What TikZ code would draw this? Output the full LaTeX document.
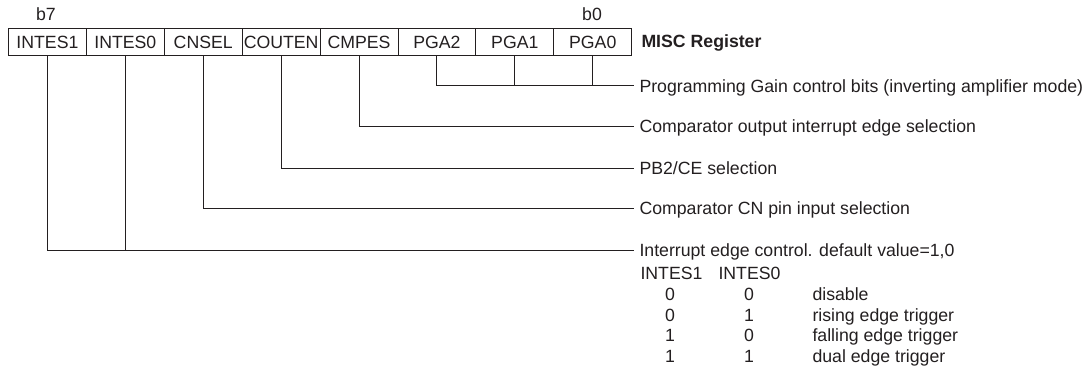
\documentclass[tikz,border=0pt]{standalone}
\usepackage{fontspec}
\setmainfont{Liberation Sans}
\definecolor{ink}{RGB}{35,31,32}
\begin{document}
\begin{tikzpicture}[x=1pt,y=-1pt,
  font=\fontsize{17.7}{20}\selectfont, color=ink, line width=1pt,
  reg/.style={draw, minimum width=77.9pt, minimum height=27pt, inner sep=0pt, anchor=north west, line width=1pt},
  lab/.style={anchor=west, inner xsep=5pt, inner ysep=0pt, text height=12.7pt, text depth=0pt},
  cell/.style={inner sep=0pt, text height=12.7pt, text depth=0pt},
  cellw/.style={cell, anchor=west}]
\useasboundingbox (0,0) rectangle (1088,369);
% register boxes
\node[reg] (r7) at (8,28) {INTES1};
\node[reg] (r6) at (85.9,28) {INTES0};
\node[reg] (r5) at (163.8,28) {CNSEL};
\node[reg] (r4) at (241.7,28) {COUTEN};
\node[reg] (r3) at (319.6,28) {CMPES};
\node[reg] (r2) at (397.5,28) {PGA2};
\node[reg] (r1) at (475.4,28) {PGA1};
\node[reg] (r0) at (553.3,28) {PGA0};
\node[cell] (b7) at (46,14) {b7};
\node[cell] (b0) at (592,14) {b0};
\node[cellw, font=\fontsize{17.7}{20}\selectfont\bfseries] (misc) at (641,41) {MISC Register};
% labels
\node[lab] (tP) at (634,86) {Programming Gain control bits (inverting amplifier mode)};
\node[lab] (tC) at (634,126.5) {Comparator output interrupt edge selection};
\node[lab] (tB) at (634,168) {PB2/CE selection};
\node[lab] (tN) at (634,208) {Comparator CN pin input selection};
\node[lab] (tI) at (634,250) {Interrupt edge control. default value=1,0};
% connectors
\draw (r2.south) |- (tP.west);
\draw (r1.south) -- (r1.south |- tP.west);
\draw (r0.south) -- (r0.south |- tP.west);
\draw (r3.south) |- (tC.west);
\draw (r4.south) |- (tB.west);
\draw (r5.south) |- (tN.west);
\draw (r7.south) |- (tI.west);
\draw (r6.south) -- (r6.south |- tI.west);
% table
\node[cellw] (h1) at (640,273) {INTES1};
\node[cellw] (h2) at (718,273) {INTES0};
\node[cell] (a1) at (670,294.5) {0};
\node[cell] (a2) at (749,294.5) {0};
\node[cellw] (a3) at (812,294.5) {disable};
\node[cell] (c1) at (670,315) {0};
\node[cell] (c2) at (749,315) {1};
\node[cellw] (c3) at (812,315) {rising edge trigger};
\node[cell] (d1) at (670,335.5) {1};
\node[cell] (d2) at (749,335.5) {0};
\node[cellw] (d3) at (812,335.5) {falling edge trigger};
\node[cell] (e1) at (670,356) {1};
\node[cell] (e2) at (749,356) {1};
\node[cellw] (e3) at (812,356) {dual edge trigger};
\end{tikzpicture}
\end{document}
